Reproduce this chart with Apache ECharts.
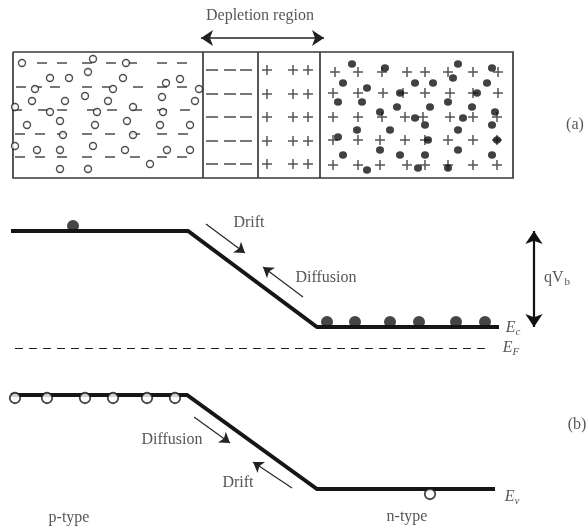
<!DOCTYPE html>
<html><head><meta charset="utf-8">
<script src="https://cdn.jsdelivr.net/npm/echarts@6/dist/echarts.min.js"></script>
<style>html,body{margin:0;padding:0;background:#fff}#c{width:587px;height:527px}</style>
</head><body><div id="c"></div>
<script>
// ---- (a) charge distribution ----
const boxOutline = [[13,52],[513,52],[513,178],[13,178],[13,52]];
const boxDividers = [[[203,52],[203,178]],[[258,52],[258,178]],[[320,52],[320,178]]];
const depletionArrow = [[201,38],[324,38]];

const pMinusRows = [
  {y:63, xs:[42,62,87,111,132,162,182]},
  {y:87, xs:[21,37,55,87,107,138,162,182]},
  {y:110, xs:[17,43,62,92,112,137,162,185]},
  {y:134, xs:[20,40,62,87,110,135,162,183]},
  {y:157, xs:[20,40,62,87,110,135,162,182]}
];
const pHoles = [[22,63],[93,59],[126,63],[50,78],[69,78],[88,72],[123,78],[166,83],[180,79],
  [35,89],[113,89],[162,97],[199,89],[32,101],[65,101],[85,96],[108,101],[195,101],[15,107],
  [50,112],[97,112],[133,107],[163,112],[27,125],[60,121],[95,125],[127,121],[160,125],[190,125],
  [63,135],[133,135],[15,146],[37,150],[60,150],[93,146],[125,150],[167,150],[190,150],
  [150,164],[60,169],[88,169]];
const depRows = [70,94,117,141,164];
const depMinusX = [212,230,246];
const depPlusX = [267,293,308];
const nPlusRows = [
  {y:72, xs:[335,358,382,407,425,448,473,498]},
  {y:93, xs:[333,358,383,403,425,450,473,498]},
  {y:117, xs:[333,358,382,405,423,450,473,497]},
  {y:140, xs:[333,358,380,405,425,448,473,497]},
  {y:165, xs:[333,358,380,407,425,448,473,497]}
];
const nElectrons = [[352,64],[385,68],[458,64],[492,68],[343,83],[367,88],[415,83],[433,83],[453,78],
  [487,83],[338,102],[362,102],[400,93],[477,93],[397,107],[430,107],[448,102],[472,107],[380,112],
  [415,118],[463,118],[495,112],[425,125],[357,130],[390,130],[458,130],[492,125],[338,137],[428,140],
  [497,140],[380,150],[343,155],[400,155],[425,155],[458,150],[492,155],[367,170],[418,168],[448,168]];

// ---- (b) band diagram ----
const Ec = [[11,231],[188,231],[317,327],[499,327]];
const Ev = [[11,395],[187,395],[317,489],[495,489]];
const EF = [[15,348],[490,348]];
const ecElectrons = [[73,226],[327,322],[355,322],[390,322],[419,322],[456,322],[485,322]];
const evHoles = [[15,398],[47,398],[85,398],[113,398],[147,398],[175,398],[430,494]];
const flowArrows = [
  [[206,224],[245,253]],
  [[303,297],[263,267]],
  [[194,417],[230,443]],
  [[292,488],[253,462]]
];
const qVbArrow = [[534,231],[534,327]];

const labels = [
  {t:'Depletion region', x:260, y:16},
  {t:'(a)', x:575, y:125},
  {t:'Drift', x:249, y:223},
  {t:'Diffusion', x:326, y:278},
  {t:'{n|qV}{s|b}', x:557, y:278},
  {t:'{i|E}{si|c}', x:513, y:328},
  {t:'{i|E}{si|F}', x:511, y:348},
  {t:'Diffusion', x:172, y:440},
  {t:'Drift', x:238, y:483},
  {t:'(b)', x:577, y:425},
  {t:'{i|E}{si|v}', x:512, y:497},
  {t:'p-type', x:69, y:518},
  {t:'n-type', x:407, y:517}
];

const FONT = '"Liberation Serif", "DejaVu Serif", serif';
const INK = '#161616';
const TXT = '#2a2a2a';

const minusPts = [];
pMinusRows.forEach(r => r.xs.forEach(x => minusPts.push([x, r.y])));
const depMinusPts = [];
depRows.forEach(y => depMinusX.forEach(x => depMinusPts.push([x, y])));
const plusPts = [];
depRows.forEach(y => depPlusX.forEach(x => plusPts.push([x, y])));
nPlusRows.forEach(r => r.xs.forEach(x => plusPts.push([x, r.y])));

const PLUS = 'path://M4.25,0H5.75V4.25H10V5.75H5.75V10H4.25V5.75H0V4.25H4.25Z';

const chart = echarts.init(document.getElementById('c'), null, {renderer:'canvas'});
chart.setOption({
  animation:false,
  backgroundColor:'#fff',
  grid:{left:0,right:0,top:0,bottom:0},
  xAxis:{type:'value',min:0,max:587,show:false},
  yAxis:{type:'value',min:0,max:527,inverse:true,show:false},
  series:[
    {type:'lines',coordinateSystem:'cartesian2d',polyline:true,silent:true,
     lineStyle:{color:'#3a3a3a',width:1.7,opacity:1},
     data:[{coords:boxOutline}].concat(boxDividers.map(c=>({coords:c})))},
    {type:'lines',coordinateSystem:'cartesian2d',silent:true,
     symbol:['arrow','arrow'],symbolSize:12,
     lineStyle:{color:'#222',width:1.7,opacity:1},
     data:[{coords:depletionArrow}]},
    {type:'scatter',symbol:'rect',symbolSize:[10,1.6],silent:true,
     itemStyle:{color:'#2a2a2a'},data:minusPts},
    {type:'scatter',symbol:'rect',symbolSize:[12,1.6],silent:true,
     itemStyle:{color:'#2a2a2a'},data:depMinusPts},
    {type:'scatter',symbol:PLUS,symbolSize:10,silent:true,
     itemStyle:{color:'#2a2a2a'},data:plusPts},
    {type:'scatter',symbol:'circle',symbolSize:7,silent:true,
     itemStyle:{color:'#fff',borderColor:'#222',borderWidth:1.4},data:pHoles},
    {type:'scatter',symbol:'circle',symbolSize:[8,7.5],silent:true,
     itemStyle:{color:'#111'},data:nElectrons},
    // band diagram
    {type:'lines',coordinateSystem:'cartesian2d',polyline:true,silent:true,
     lineStyle:{color:INK,width:4,opacity:1,join:'miter'},
     data:[{coords:Ec},{coords:Ev}]},
    {type:'lines',coordinateSystem:'cartesian2d',silent:true,
     lineStyle:{color:'#222',width:1.2,type:[8,6],opacity:1},
     data:[{coords:EF}]},
    {type:'scatter',symbol:'circle',symbolSize:12,silent:true,
     itemStyle:{color:INK},data:ecElectrons},
    {type:'scatter',symbol:'circle',symbolSize:10.5,silent:true,
     itemStyle:{color:'#fff',borderColor:INK,borderWidth:1.8},data:evHoles},
    {type:'lines',coordinateSystem:'cartesian2d',silent:true,
     symbol:['none','arrow'],symbolSize:10,
     lineStyle:{color:'#222',width:1.1,opacity:1},
     data:flowArrows.map(c=>({coords:c}))},
    {type:'lines',coordinateSystem:'cartesian2d',silent:true,
     symbol:['arrow','arrow'],symbolSize:13,
     lineStyle:{color:'#111',width:2.2,opacity:1},
     data:[{coords:qVbArrow}]},
    {type:'scatter',symbolSize:1,silent:true,itemStyle:{color:'rgba(0,0,0,0)'},
     label:{show:true,position:'inside',color:TXT,fontFamily:FONT,fontSize:16,
       formatter:p=>p.data.t,
       rich:{
         n:{fontFamily:FONT,fontSize:16,color:TXT},
         s:{fontFamily:FONT,fontSize:11,color:TXT,padding:[8,0,0,1]},
         i:{fontFamily:FONT,fontSize:16,fontStyle:'italic',color:TXT},
         si:{fontFamily:FONT,fontSize:11,fontStyle:'italic',color:TXT,padding:[8,0,0,0]}
       }},
     data:labels.map(l=>({value:[l.x,l.y],t:l.t}))}
  ]
});
</script></body></html>
